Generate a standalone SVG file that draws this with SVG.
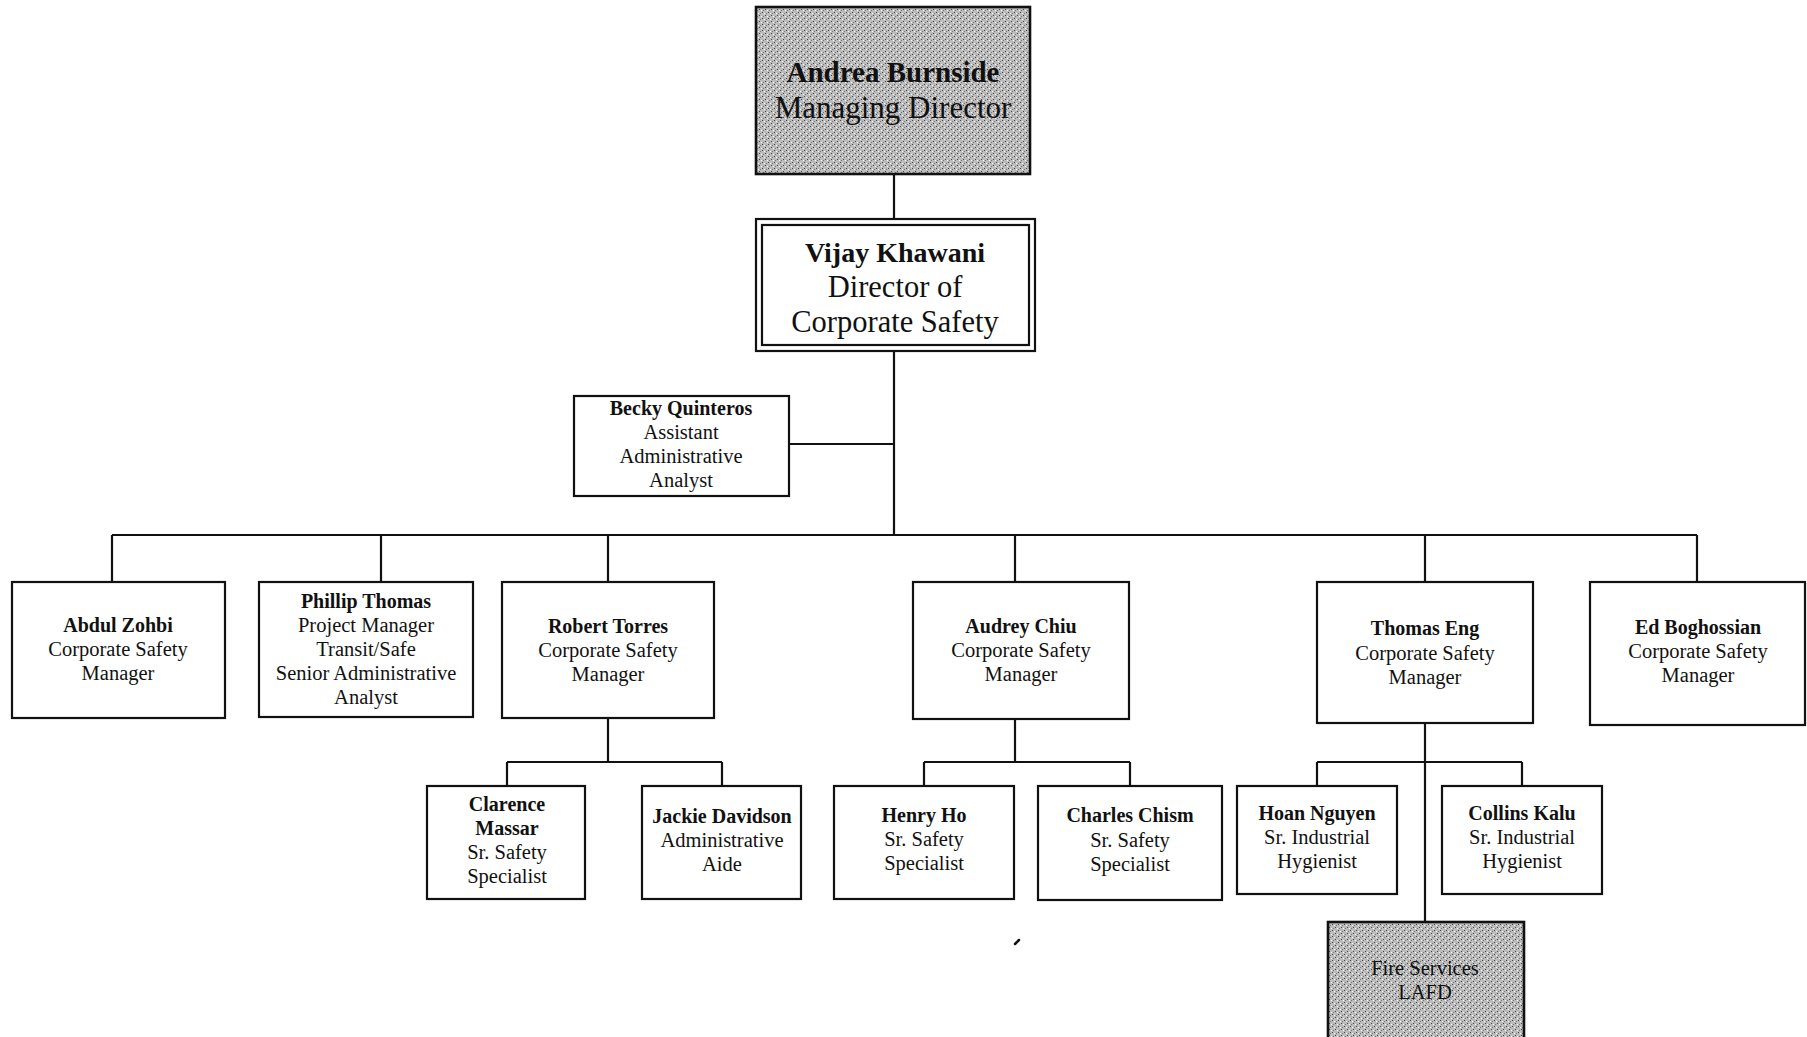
<svg xmlns="http://www.w3.org/2000/svg" width="1807" height="1037" viewBox="0 0 1807 1037">
<style>
.box{fill:#ffffff;stroke:#111;stroke-width:2.2}
.gray{fill:url(#ht);stroke:#111;stroke-width:2.6}
.conn{stroke:#111;stroke-width:2.2;fill:none}
text{font-family:"Liberation Serif","Times New Roman",serif;fill:#111;text-anchor:middle}
.t{font-size:20.5px}
.n{font-size:20px;font-weight:bold}
.bt{font-size:30.5px}
.bn{font-size:28px;font-weight:bold}
</style>
<defs>
<pattern id="ht" width="6" height="6" patternUnits="userSpaceOnUse">
<rect width="6" height="6" fill="#bcbcbc"/>
<rect x="0" y="0" width="1" height="1" fill="#444"/>
<rect x="3" y="3" width="1" height="1" fill="#444"/>
<rect x="2" y="1" width="1" height="1" fill="#fff"/>
<rect x="5" y="4" width="1" height="1" fill="#fff"/>
<rect x="4" y="1" width="1" height="1" fill="#777"/>
<rect x="1" y="4" width="1" height="1" fill="#777"/>
</pattern>
</defs>
<rect width="1807" height="1037" fill="#fff"/>

<g id="connectors">
<path class="conn" d="M894 174V219M894 351V535M789 444H894M112 535H1697"/>
<path class="conn" d="M112 535V582M381 535V582M608 535V582M1015 535V582M1425 535V582M1697 535V582"/>
<path class="conn" d="M608 718V762M507 762H722M507 762V786M722 762V786"/>
<path class="conn" d="M1015 719V762M924 762H1130M924 762V786M1130 762V786"/>
<path class="conn" d="M1425 723V922M1317 762H1522M1317 762V786M1522 762V786"/>
</g>

<g id="andrea">
<rect class="gray" x="756" y="7" width="274" height="167"/>
<text x="893" y="82" style="font-size:29px;font-weight:bold">Andrea Burnside</text>
<text x="893" y="118" style="font-size:31px">Managing Director</text>
</g>

<g id="vijay">
<rect class="box" x="756" y="219" width="279" height="132"/>
<rect class="box" x="762" y="225" width="267" height="120"/>
<text class="bn" x="895" y="262">Vijay Khawani</text>
<text class="bt" x="895" y="297">Director of</text>
<text class="bt" x="895" y="332">Corporate Safety</text>
</g>

<g id="becky">
<rect class="box" x="574" y="396" width="215" height="100"/>
<text class="n" x="681" y="415">Becky Quinteros</text>
<text class="t" x="681" y="439">Assistant</text>
<text class="t" x="681" y="463">Administrative</text>
<text class="t" x="681" y="487">Analyst</text>
</g>

<g id="abdul">
<rect class="box" x="12" y="582" width="213" height="136"/>
<text class="n" x="118" y="632">Abdul Zohbi</text>
<text class="t" x="118" y="656">Corporate Safety</text>
<text class="t" x="118" y="680">Manager</text>
</g>

<g id="phillip">
<rect class="box" x="259" y="582" width="214" height="135"/>
<text class="n" x="366" y="608">Phillip Thomas</text>
<text class="t" x="366" y="632">Project Manager</text>
<text class="t" x="366" y="656">Transit/Safe</text>
<text class="t" x="366" y="680">Senior Administrative</text>
<text class="t" x="366" y="704">Analyst</text>
</g>

<g id="robert">
<rect class="box" x="502" y="582" width="212" height="136"/>
<text class="n" x="608" y="633">Robert Torres</text>
<text class="t" x="608" y="657">Corporate Safety</text>
<text class="t" x="608" y="681">Manager</text>
</g>

<g id="audrey">
<rect class="box" x="913" y="582" width="216" height="137"/>
<text class="n" x="1021" y="633">Audrey Chiu</text>
<text class="t" x="1021" y="657">Corporate Safety</text>
<text class="t" x="1021" y="681">Manager</text>
</g>

<g id="thomas">
<rect class="box" x="1317" y="582" width="216" height="141"/>
<text class="n" x="1425" y="635">Thomas Eng</text>
<text class="t" x="1425" y="660">Corporate Safety</text>
<text class="t" x="1425" y="684">Manager</text>
</g>

<g id="ed">
<rect class="box" x="1590" y="582" width="215" height="143"/>
<text class="n" x="1698" y="634">Ed Boghossian</text>
<text class="t" x="1698" y="658">Corporate Safety</text>
<text class="t" x="1698" y="682">Manager</text>
</g>

<g id="clarence">
<rect class="box" x="427" y="786" width="158" height="113"/>
<text class="n" x="507" y="811">Clarence</text>
<text class="n" x="507" y="835">Massar</text>
<text class="t" x="507" y="859">Sr. Safety</text>
<text class="t" x="507" y="883">Specialist</text>
</g>

<g id="jackie">
<rect class="box" x="642" y="786" width="159" height="113"/>
<text class="n" x="722" y="823">Jackie Davidson</text>
<text class="t" x="722" y="847">Administrative</text>
<text class="t" x="722" y="871">Aide</text>
</g>

<g id="henry">
<rect class="box" x="834" y="786" width="180" height="113"/>
<text class="n" x="924" y="822">Henry Ho</text>
<text class="t" x="924" y="846">Sr. Safety</text>
<text class="t" x="924" y="870">Specialist</text>
</g>

<g id="charles">
<rect class="box" x="1038" y="786" width="184" height="114"/>
<text class="n" x="1130" y="822">Charles Chism</text>
<text class="t" x="1130" y="847">Sr. Safety</text>
<text class="t" x="1130" y="871">Specialist</text>
</g>

<g id="hoan">
<rect class="box" x="1237" y="786" width="160" height="108"/>
<text class="n" x="1317" y="820">Hoan Nguyen</text>
<text class="t" x="1317" y="844">Sr. Industrial</text>
<text class="t" x="1317" y="868">Hygienist</text>
</g>

<g id="collins">
<rect class="box" x="1442" y="786" width="160" height="108"/>
<text class="n" x="1522" y="820">Collins Kalu</text>
<text class="t" x="1522" y="844">Sr. Industrial</text>
<text class="t" x="1522" y="868">Hygienist</text>
</g>

<g id="fire">
<rect class="gray" x="1328" y="922" width="196" height="130"/>
<text class="t" x="1425" y="975">Fire Services</text>
<text class="t" x="1425" y="999">LAFD</text>
</g>

<path d="M1015 944L1019 940" stroke="#111" stroke-width="2.5" stroke-linecap="round"/>
</svg>
